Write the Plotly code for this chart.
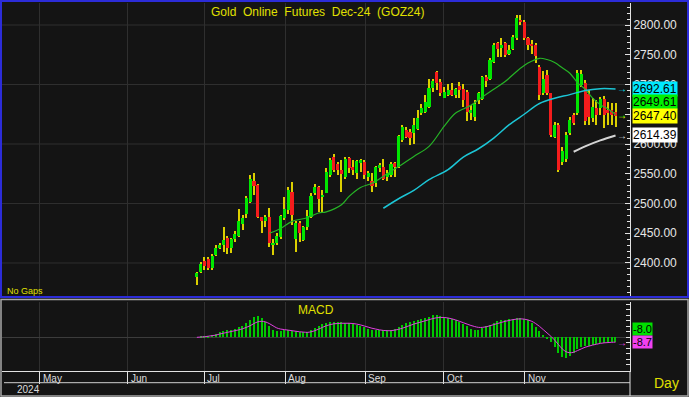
import plotly.graph_objects as go

W, H = 689, 397

# ---------------- data ----------------
title_text = "Gold\u00a0\u00a0Online\u00a0\u00a0Futures\u00a0\u00a0Dec-24\u00a0\u00a0(GOZ24)"
month_labels = ["May", "Jun", "Jul", "Aug", "Sep", "Oct", "Nov"]
month_pos = [-41.3, -18.1, 1.9, 23.2, 44.3, 64.9, 86.1]   # bar index of month starts
year_label = "2024"
price_ticks = [2400, 2450, 2500, 2550, 2600, 2650, 2700, 2750, 2800]
hidden_ticks = [2650]          # label covered by the value boxes in the original
grid_prices = [2400, 2500, 2600, 2700, 2800]

opens = [2376, 2385, 2403, 2407, 2392, 2414, 2425, 2431, 2442, 2426,
         2441, 2446, 2466, 2482, 2503, 2537, 2531, 2477, 2470, 2478,
         2431, 2433, 2444, 2475, 2489, 2519, 2441, 2468, 2439, 2461,
         2478, 2517, 2527, 2511, 2518, 2548, 2578, 2566, 2556, 2545,
         2576, 2562, 2551, 2568, 2570, 2545, 2537, 2534, 2559, 2562,
         2545, 2548, 2568, 2562, 2607, 2623, 2621, 2618, 2626, 2652,
         2654, 2663, 2694, 2721, 2705, 2678, 2682, 2690, 2682, 2697,
         2692, 2688, 2652, 2646, 2674, 2675, 2713, 2710, 2738, 2769,
         2763, 2769, 2752, 2759, 2778, 2809, 2805, 2778, 2768, 2766,
         2730, 2685, 2716, 2685, 2612, 2632, 2570, 2575, 2618, 2648,
         2652, 2700, 2702, 2684, 2644, 2660, 2660, 2676, 2657, 2657,
         2654]
highs = [2385, 2402, 2410, 2410, 2415, 2431, 2433, 2461, 2446, 2442,
         2453, 2490, 2481, 2512, 2548, 2551, 2533, 2478, 2481, 2492,
         2441, 2450, 2481, 2511, 2527, 2536, 2471, 2470, 2462, 2489,
         2517, 2533, 2530, 2523, 2559, 2576, 2583, 2570, 2573, 2578,
         2578, 2573, 2573, 2574, 2573, 2554, 2551, 2563, 2568, 2575,
         2556, 2570, 2570, 2615, 2632, 2629, 2626, 2643, 2657, 2668,
         2682, 2710, 2709, 2723, 2710, 2696, 2701, 2702, 2694, 2705,
         2701, 2691, 2665, 2674, 2688, 2715, 2716, 2744, 2769, 2772,
         2778, 2772, 2766, 2783, 2817, 2817, 2808, 2780, 2775, 2769,
         2733, 2723, 2724, 2686, 2637, 2635, 2595, 2620, 2645, 2652,
         2724, 2725, 2708, 2690, 2677, 2674, 2679, 2681, 2670, 2669,
         2669]
lows = [2363, 2383, 2388, 2388, 2389, 2411, 2424, 2418, 2415, 2416,
        2436, 2443, 2456, 2475, 2500, 2514, 2475, 2450, 2461, 2427,
        2414, 2430, 2441, 2473, 2483, 2464, 2419, 2436, 2437, 2455,
        2475, 2514, 2486, 2486, 2517, 2545, 2553, 2548, 2520, 2542,
        2551, 2548, 2542, 2553, 2542, 2537, 2520, 2528, 2553, 2539,
        2537, 2545, 2545, 2559, 2604, 2610, 2598, 2600, 2623, 2649,
        2652, 2660, 2688, 2691, 2680, 2677, 2680, 2680, 2677, 2677,
        2663, 2639, 2640, 2639, 2668, 2674, 2696, 2708, 2736, 2747,
        2747, 2747, 2750, 2758, 2775, 2800, 2775, 2758, 2752, 2736,
        2674, 2682, 2682, 2612, 2610, 2553, 2565, 2570, 2615, 2632,
        2649, 2695, 2632, 2632, 2637, 2632, 2649, 2627, 2632, 2632,
        2629]
closes = [2383, 2398, 2395, 2392, 2412, 2426, 2431, 2438, 2425, 2440,
          2449, 2471, 2475, 2509, 2541, 2529, 2478, 2471, 2477, 2433,
          2433, 2446, 2479, 2490, 2523, 2481, 2468, 2450, 2461, 2479,
          2513, 2527, 2508, 2514, 2553, 2573, 2557, 2556, 2549, 2574,
          2559, 2556, 2571, 2573, 2548, 2551, 2530, 2562, 2565, 2542,
          2551, 2566, 2561, 2613, 2628, 2612, 2610, 2632, 2643, 2661,
          2671, 2694, 2706, 2702, 2685, 2687, 2690, 2683, 2692, 2690,
          2674, 2654, 2657, 2668, 2686, 2713, 2706, 2741, 2766, 2759,
          2766, 2750, 2758, 2780, 2811, 2805, 2778, 2766, 2765, 2748,
          2682, 2710, 2685, 2615, 2632, 2556, 2588, 2615, 2640, 2635,
          2719, 2718, 2638, 2646, 2662, 2649, 2676, 2649, 2652, 2649,
          2647.40]

# moving averages (bar index, value)
ma20_idx = [19, 22, 25, 29, 32, 34, 38, 40, 43, 46, 50, 53, 57, 61, 65, 68, 72, 75,
            78, 81, 84, 87, 90, 92, 94, 96, 98, 100, 102, 104, 106, 108, 110]
ma20_val = [2450, 2458, 2470, 2476, 2484, 2486, 2498, 2512, 2527, 2534, 2550, 2562,
            2579, 2596, 2630, 2652, 2665, 2679, 2692, 2705, 2722, 2736, 2744, 2742,
            2737, 2728, 2719, 2703, 2692, 2677, 2666, 2659, 2649.61]
ma50_idx = [49, 53, 57, 61, 66, 70, 74, 78, 82, 86, 90, 94, 98, 102, 106, 110]
ma50_val = [2492, 2508, 2522, 2540, 2557, 2578, 2592, 2610, 2632, 2650, 2668, 2677,
            2683, 2690, 2693, 2692.61]
ma100_idx = [99, 102, 106, 110]
ma100_val = [2587, 2596, 2606, 2614.39]

macd_hist = [0, 1, 2, 3, 4, 6, 9, 11, 13, 14,
             16, 18, 21, 26, 31, 36, 38, 35, 28, 20,
             14, 12, 12, 13, 13, 12, 11, 10, 10, 10,
             13, 17, 21, 24, 26, 28, 28, 27, 27, 26,
             26, 25, 23, 20, 18, 16, 14, 13, 13, 13,
             14, 14, 16, 19, 23, 26, 28, 30, 31, 33,
             35, 37, 40, 41, 39, 37, 35, 33, 31, 28,
             24, 20, 16, 13, 14, 17, 20, 23, 26, 29,
             31, 32, 33, 34, 35, 35, 34, 31, 26, 19,
             12, 5, -2, -8, -18, -28, -36, -38, -34, -28,
             -22, -18, -16, -15, -13, -12, -11, -10, -10, -9,
             -8.0]
macd_signal = [0, 0.5, 1, 2, 3, 4, 6, 7.5, 9, 10.5,
               12, 13.5, 15.5, 18, 21, 25, 28, 29, 28, 25,
               21, 17, 15, 14, 13, 12, 11, 10, 9.5, 9,
               10, 12, 15, 18, 21, 23, 24.5, 25, 25.5, 25.5,
               25.5, 25, 24, 22.5, 20.5, 18.5, 16.5, 15, 13.5, 12.5,
               12, 12, 13, 14.5, 16.5, 19, 21.5, 24, 26, 28,
               30, 32, 34, 35.5, 36, 36, 35, 33.5, 31.5, 29,
               26.5, 24, 21.5, 19.5, 18, 18, 19, 21, 23, 25,
               27, 29, 30.5, 32, 33, 33.5, 33, 31.5, 29, 25,
               20, 14, 8, 2, -5, -13, -21, -26, -28, -27,
               -24, -21, -18, -16, -14, -12.5, -11, -10, -9.5, -9,
               -8.7]

# ---------------- helpers ----------------
def px(xp):
    return xp / W


def py(yp):
    return 1 - yp / H


FONT = "Liberation Sans, Arial, sans-serif"
YEL = "#e0e000"
GRID = "#2f2f2f"
AX = "#e2e2e2"

n = len(closes)
bars = list(range(n))

fig = go.Figure()

# wicks (drawn as thin bars so the bodies sit on top of them)
wick_h = [h - l for h, l in zip(highs, lows)]
fig.add_trace(go.Bar(x=bars, y=wick_h, base=lows, width=0.27,
                     marker=dict(color="#dccf00", line=dict(width=0)),
                     xaxis="x", yaxis="y", showlegend=False, hoverinfo="skip"))

# bodies
body_base = [min(o, c) for o, c in zip(opens, closes)]
body_h = [max(abs(c - o), 0.8) for o, c in zip(opens, closes)]
body_col = ["#00e600" if c >= o else "#f41c1c" for o, c in zip(opens, closes)]
fig.add_trace(go.Bar(x=bars, y=body_h, base=body_base, width=0.82,
                     marker=dict(color=body_col, line=dict(width=0)),
                     xaxis="x", yaxis="y", showlegend=False, hoverinfo="skip"))

# moving averages
fig.add_trace(go.Scatter(x=ma20_idx, y=ma20_val, mode="lines", line=dict(color="#26b426", width=1.2, shape="spline"),
                         xaxis="x", yaxis="y", showlegend=False, hoverinfo="skip"))
fig.add_trace(go.Scatter(x=ma50_idx, y=ma50_val, mode="lines", line=dict(color="#1cc6d6", width=1.5, shape="spline"),
                         xaxis="x", yaxis="y", showlegend=False, hoverinfo="skip"))
fig.add_trace(go.Scatter(x=ma100_idx, y=ma100_val, mode="lines", line=dict(color="#d4d4d4", width=2, shape="spline"),
                         xaxis="x", yaxis="y", showlegend=False, hoverinfo="skip"))

# MACD
fig.add_trace(go.Bar(x=bars, y=macd_hist, width=0.3, marker=dict(color="#00c800", line=dict(width=0)),
                     xaxis="x2", yaxis="y2", showlegend=False, hoverinfo="skip"))
fig.add_trace(go.Scatter(x=bars, y=macd_signal, mode="lines", line=dict(color="#e040e0", width=1, shape="spline"),
                         xaxis="x2", yaxis="y2", showlegend=False, hoverinfo="skip"))

xr = [-51.2, 113.8]
xdom = [px(2), px(630)]

shapes = []
for g in grid_prices:
    shapes.append(dict(type="line", xref="paper", yref="y", x0=xdom[0], x1=xdom[1], y0=g, y1=g,
                       line=dict(color=GRID, width=1), layer="below"))
# panel frames
shapes.append(dict(type="rect", xref="paper", yref="paper", x0=px(1), x1=px(688), y0=py(297), y1=py(1),
                   line=dict(color="#2c2cd8", width=2)))
shapes.append(dict(type="rect", xref="paper", yref="paper", x0=px(1), x1=px(688), y0=py(396), y1=py(299.5),
                   line=dict(color="#a8a8a8", width=1.5)))
shapes.append(dict(type="line", xref="paper", yref="paper", x0=px(630), x1=px(630), y0=py(396), y1=py(371),
                   line=dict(color=AX, width=1)))
shapes.append(dict(type="line", xref="paper", yref="paper", x0=px(4), x1=px(630), y0=py(382.7), y1=py(382.7),
                   line=dict(color="#cfcfcf", width=1)))

ann = []


def label(text, x, y, size, color, xanchor="center", xref="paper"):
    ann.append(dict(text=text, x=x, y=y, xref=xref, yref="paper", xanchor=xanchor, yanchor="middle",
                    showarrow=False, font=dict(family=FONT, size=size, color=color)))


label(title_text, px(317), py(12), 12, YEL)
label("No Gaps", px(5), py(291), 9, YEL, xanchor="left")
label("MACD", px(316), py(310), 12, YEL)
for lab, pos in zip(month_labels, month_pos):
    ann.append(dict(text=lab, x=pos, y=py(378.5), xref="x2", yref="paper", xanchor="left", yanchor="middle",
                    xshift=1, showarrow=False, font=dict(family=FONT, size=10, color="#dcdcdc")))
label(year_label, px(15), py(389), 10, "#dcdcdc", xanchor="left")
label("Day", px(666), py(383), 14, YEL)


def value_box(val, text, bg, yref, yshift=0, size=12, fg="#000000"):
    ann.append(dict(text=text, x=px(632), y=val, xref="paper", yref=yref, xanchor="left", yanchor="middle",
                    yshift=yshift, showarrow=False, bgcolor=bg, borderpad=0,
                    font=dict(family=FONT, size=size, color=fg)))


def arrow(val, color, yref):
    ann.append(dict(text="\u2192", x=px(622), y=val, xref="paper", yref=yref, xanchor="center",
                    yanchor="middle", showarrow=False, font=dict(family=FONT, size=10, color=color)))


value_box(ma50_val[-1], f"{ma50_val[-1]:.2f}", "#00e8ff", "y")
value_box(ma20_val[-1], f"{ma20_val[-1]:.2f}", "#00f000", "y", yshift=12)
value_box(closes[-1], f"{closes[-1]:.2f}", "#ffff00", "y")
value_box(ma100_val[-1], f"{ma100_val[-1]:.2f}", "#ffffff", "y")
arrow(ma50_val[-1], "#00e8ff", "y")
arrow(ma20_val[-1], "#00e000", "y")
arrow(closes[-1], "#e0e000", "y")
arrow(ma100_val[-1], "#e0e0e0", "y")
value_box(macd_hist[-1], f"{macd_hist[-1]:.1f}", "#00e000", "y2", yshift=13, size=11)
value_box(macd_signal[-1], f"{macd_signal[-1]:.1f}", "#f040f0", "y2", size=11)
arrow(macd_signal[-1], "#f040f0", "y2")

tick_text = ["" if v in hidden_ticks else f"{v:.2f}" for v in price_ticks]

fig.update_layout(
    width=W, height=H,
    margin=dict(l=0, r=0, t=0, b=0),
    paper_bgcolor="#141414", plot_bgcolor="#141414",
    showlegend=False, barmode="overlay", bargap=0,
    shapes=shapes, annotations=ann,
    xaxis=dict(domain=xdom, range=xr, anchor="y", tickvals=month_pos, showticklabels=False,
               showgrid=True, gridcolor=GRID, gridwidth=1, zeroline=False, ticks="", showline=False,
               fixedrange=True),
    xaxis2=dict(domain=xdom, range=xr, anchor="y2", tickvals=month_pos, showticklabels=False,
                showgrid=True, gridcolor=GRID, gridwidth=1, zeroline=False,
                ticks="outside", ticklen=12, tickcolor=AX, tickwidth=1,
                showline=True, linecolor=AX, linewidth=1, fixedrange=True),
    yaxis=dict(domain=[py(296), py(3)], range=[2344.5, 2837], anchor="x", side="right",
               tickvals=price_ticks, ticktext=tick_text,
               ticks="inside", ticklen=5, tickcolor=AX, tickwidth=1,
               minor=dict(dtick=10, tick0=0, ticks="inside", ticklen=3, tickcolor=AX, showgrid=False),
               showline=True, linecolor=AX, linewidth=1, showgrid=False, zeroline=False,
               tickfont=dict(family=FONT, size=12, color="#e6e6e6"), fixedrange=True),
    yaxis2=dict(domain=[py(371), py(302)], range=[-61, 64], anchor="x2", side="right",
                tickvals=[-60, -50, -40, -30, -20, -10, 0, 10, 20, 30, 40, 50, 60], showticklabels=False,
                ticks="inside", ticklen=4, tickcolor=AX,
                showline=True, linecolor=AX, linewidth=1, showgrid=False,
                zeroline=True, zerolinecolor="#3c3c3c", zerolinewidth=1, fixedrange=True),
)

fig.write_html("out.html", config={"displayModeBar": False},
               post_script="document.body.style.margin='0px';document.body.style.overflow='hidden';")
